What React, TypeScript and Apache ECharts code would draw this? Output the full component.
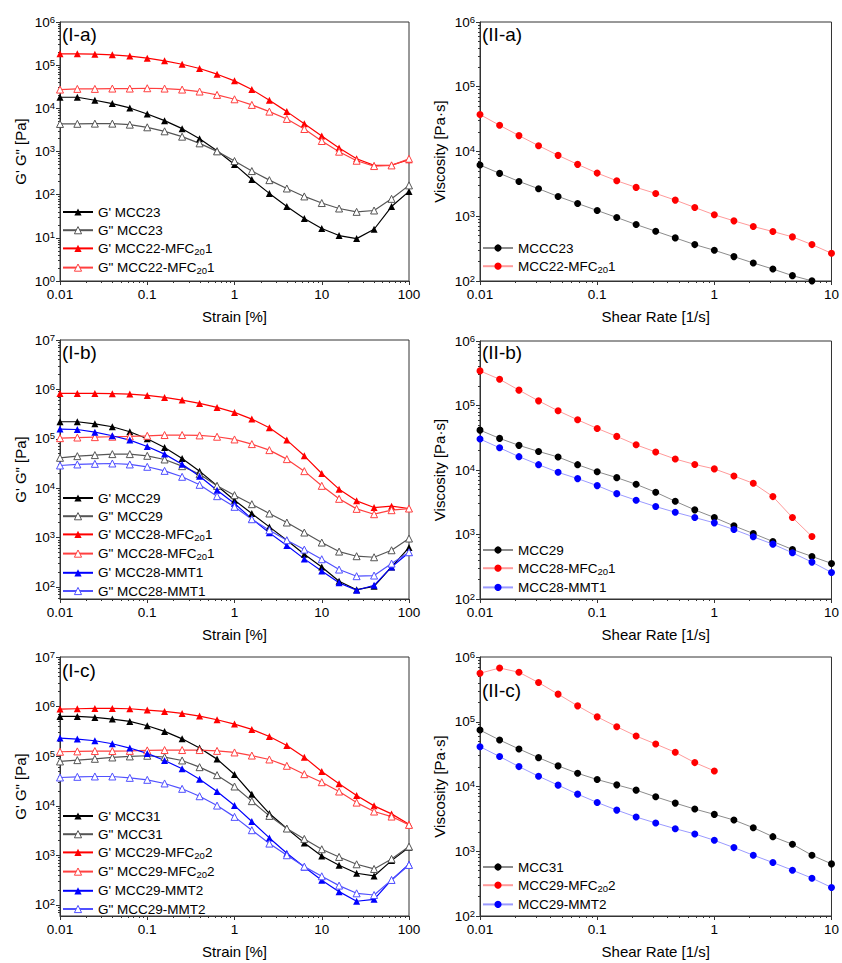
import React, { useEffect, useRef } from "react";
import * as echarts from "echarts";

const FONT = "'Liberation Sans', Arial, sans-serif";

// x values
const STRAIN = [
  0.01, 0.0158, 0.0251, 0.0398, 0.0631, 0.1, 0.158, 0.251, 0.398, 0.631, 1,
  1.58, 2.51, 3.98, 6.31, 10, 15.8, 25.1, 39.8, 63.1, 100,
];
const SHEAR = [
  0.01, 0.0147, 0.0215, 0.0316, 0.0464, 0.0681, 0.1, 0.147, 0.215, 0.316,
  0.464, 0.681, 1, 1.47, 2.15, 3.16, 4.64, 6.81, 10,
];

// tick labels
const STRAIN_TICKS = [0.01, 0.1, 1, 10, 100];
const STRAIN_TICK_LABELS = ["0.01", "0.1", "1", "10", "100"];
const SHEAR_TICKS = [0.01, 0.1, 1, 10];
const SHEAR_TICK_LABELS = ["0.01", "0.1", "1", "10"];
const Y_TICKS_0_6 = [1, 10, 100, 1e3, 1e4, 1e5, 1e6];
const Y_TICKS_2_6 = [100, 1e3, 1e4, 1e5, 1e6];
const Y_TICKS_2_7 = [100, 1e3, 1e4, 1e5, 1e6, 1e7];

// (I-a) strain sweep
const IA_GP_MCC23 = [18070, 18070, 15400, 12880, 10210, 7410, 5190, 3380, 1983, 1044, 502, 225, 107, 53, 28, 16.4, 11.3, 9.6, 15.8, 53, 119];
const IA_GPP_MCC23 = [4345, 4380, 4420, 4420, 4190, 3634, 2934, 2206, 1545, 1007, 601, 352, 217, 139, 91, 64, 47.8, 40, 43, 80, 164];
const IA_GP_MFC = [183000, 183000, 180000, 174000, 162000, 145000, 126000, 105000, 83800, 61800, 43300, 27200, 15400, 8390, 4420, 2290, 1203, 681, 476, 485, 645];
const IA_GPP_MFC = [27200, 28200, 28200, 28700, 28700, 29200, 28700, 27200, 24500, 20500, 16200, 12000, 8390, 5680, 3320, 1750, 990, 611, 460, 476, 680];

// (II-a) viscosity
const IIA_MCCC23 = [6180, 4590, 3450, 2660, 2020, 1575, 1228, 957, 745, 587, 463, 365, 298, 238, 190, 153, 121, 100.5, 80];
const IIA_MFC = [37200, 25400, 17600, 12300, 8720, 6330, 4640, 3530, 2790, 2250, 1775, 1366, 1052, 849, 694, 581, 480, 365, 268];

// (I-b) strain sweep
const IB_GP_MCC29 = [221000, 221000, 201000, 175000, 139000, 100000, 66700, 39900, 22100, 11150, 5710, 3070, 1645, 883, 459, 254, 130, 88, 103, 254, 627];
const IB_GPP_MCC29 = [41200, 44500, 46700, 48900, 48900, 45200, 38100, 27900, 19200, 11150, 7210, 4740, 3070, 2015, 1263, 792, 520, 419, 399, 553, 955];
const IB_GP_MFC = [830000, 830000, 830000, 817000, 804000, 755000, 689000, 608000, 520000, 432000, 342000, 250000, 167000, 94000, 45200, 19800, 9550, 5540, 4050, 4320, 3870];
const IB_GPP_MFC = [103000, 106000, 108000, 110000, 112000, 115000, 119000, 119000, 117000, 110000, 96900, 78000, 58900, 38700, 22100, 11150, 6080, 3810, 2970, 3580, 3870];
const IB_GP_MMT = [157000, 154000, 136000, 115000, 94000, 69900, 48900, 30600, 17500, 9100, 4890, 2390, 1244, 689, 370, 211, 121, 85.6, 108, 254, 497];
const IB_GPP_MMT = [28800, 30200, 31100, 31600, 30200, 27100, 22400, 17000, 11700, 6880, 4190, 2350, 1408, 883, 571, 364, 225, 165, 170, 297, 504];

// (II-b) viscosity
const IIB_MCC29 = [41500, 30900, 24100, 19400, 15900, 12100, 9420, 7610, 6000, 4520, 3270, 2410, 1833, 1361, 1036, 780, 586, 457, 356];
const IIB_MFC = [344000, 255000, 173000, 118000, 82700, 60000, 44100, 33200, 24600, 19000, 14800, 12200, 10400, 8070, 6220, 3870, 1833, 931, null];
const IIB_MMT = [30200, 22100, 16100, 12100, 9200, 7350, 5730, 4300, 3400, 2710, 2210, 1833, 1515, 1194, 920, 709, 520, 373, 258];

// (I-c) strain sweep
const IC_GP_MCC31 = [634000, 634000, 605000, 560000, 502000, 411000, 316000, 224000, 146000, 87300, 42800, 17100, 6980, 3480, 1786, 975, 632, 436, 385, 785, 1459];
const IC_GPP_MCC31 = [78300, 83300, 88600, 94300, 98900, 102000, 95700, 82000, 60100, 41500, 24500, 12400, 6260, 3480, 2150, 1330, 931, 662, 533, 849, 1506];
const IC_GP_MFC = [891000, 906000, 920000, 920000, 906000, 851000, 800000, 729000, 644000, 543000, 444000, 347000, 250000, 165000, 95700, 49200, 27700, 16100, 9970, 6870, 4250];
const IC_GPP_MFC = [123000, 125000, 127000, 127000, 128000, 131000, 133000, 133000, 133000, 128000, 119000, 103000, 85900, 64000, 43400, 29900, 19400, 11600, 7660, 6070, 4120];
const IC_GP_MMT = [232000, 221000, 205000, 178000, 146000, 114000, 82000, 55700, 34400, 19400, 10100, 4810, 2250, 1104, 585, 315, 186, 119, 130, 320, 662];
const IC_GPP_MMT = [37200, 38400, 39000, 39000, 36600, 33400, 28200, 22000, 15600, 10100, 5980, 3220, 1730, 1007, 594, 379, 246, 172, 159, 320, 642];

// (II-c) viscosity
const IIC_MCC31 = [74400, 52200, 38000, 27900, 20800, 16000, 12800, 10600, 8790, 6930, 5540, 4480, 3710, 3030, 2310, 1680, 1282, 868, 638];
const IIC_MFC = [561000, 677000, 581000, 403000, 267000, 176000, 119000, 83800, 60200, 45300, 33700, 23400, 17400, null, null, null, null, null, null];
const IIC_MMT = [41200, 29000, 20300, 14400, 10500, 7620, 5670, 4320, 3380, 2730, 2230, 1849, 1476, 1139, 868, 669, 510, 384, 276];

type Curve = {
  name: string;
  values: (number | null)[];
  line: string;
  mark: string;
  kind: "filled" | "open" | "dot";
};

const gp = (name: string, values: (number | null)[], c: string): Curve => ({ name, values, line: c, mark: c, kind: "filled" });
const gpp = (name: string, values: (number | null)[], c: string): Curve => ({ name, values, line: c, mark: c, kind: "open" });
const eta = (name: string, values: (number | null)[], line: string, mark: string): Curve => ({ name, values, line, mark, kind: "dot" });

const PANELS = [
  {
    tag: "(I-a)", rect: [60, 22, 349, 259], tagPos: [62, 25], legendPos: [62, 205],
    strain: true, yMin: 1, yMax: 1e6, yTicks: Y_TICKS_0_6,
    curves: [
      gp("G' MCC23", IA_GP_MCC23, "#000000"),
      gpp('G" MCC23', IA_GPP_MCC23, "#555555"),
      gp("G' MCC22-MFC201", IA_GP_MFC, "#ff0000"),
      gpp('G" MCC22-MFC201', IA_GPP_MFC, "#ff4040"),
    ],
  },
  {
    tag: "(II-a)", rect: [480, 22, 353, 259], tagPos: [482, 25], legendPos: [482, 241],
    strain: false, yMin: 100, yMax: 1e6, yTicks: Y_TICKS_2_6,
    curves: [
      eta("MCCC23", IIA_MCCC23, "#8c8c8c", "#000000"),
      eta("MCC22-MFC201", IIA_MFC, "#ff9a9a", "#ff0000"),
    ],
  },
  {
    tag: "(I-b)", rect: [60, 340, 349, 259], tagPos: [62, 343], legendPos: [62, 491],
    strain: true, yMin: 57, yMax: 1e7, yTicks: Y_TICKS_2_7,
    curves: [
      gp("G' MCC29", IB_GP_MCC29, "#000000"),
      gpp('G" MCC29', IB_GPP_MCC29, "#555555"),
      gp("G' MCC28-MFC201", IB_GP_MFC, "#ff0000"),
      gpp('G" MCC28-MFC201', IB_GPP_MFC, "#ff4040"),
      gp("G' MCC28-MMT1", IB_GP_MMT, "#0000ff"),
      gpp('G" MCC28-MMT1', IB_GPP_MMT, "#5050ff"),
    ],
  },
  {
    tag: "(II-b)", rect: [480, 341, 353, 258], tagPos: [482, 343], legendPos: [482, 543],
    strain: false, yMin: 100, yMax: 1e6, yTicks: Y_TICKS_2_6,
    curves: [
      eta("MCC29", IIB_MCC29, "#8c8c8c", "#000000"),
      eta("MCC28-MFC201", IIB_MFC, "#ff9a9a", "#ff0000"),
      eta("MCC28-MMT1", IIB_MMT, "#9a9aff", "#0000ff"),
    ],
  },
  {
    tag: "(I-c)", rect: [60, 657, 349, 259], tagPos: [62, 661], legendPos: [62, 809],
    strain: true, yMin: 60, yMax: 1e7, yTicks: Y_TICKS_2_7,
    curves: [
      gp("G' MCC31", IC_GP_MCC31, "#000000"),
      gpp('G" MCC31', IC_GPP_MCC31, "#555555"),
      gp("G' MCC29-MFC202", IC_GP_MFC, "#ff0000"),
      gpp('G" MCC29-MFC202', IC_GPP_MFC, "#ff4040"),
      gp("G' MCC29-MMT2", IC_GP_MMT, "#0000ff"),
      gpp('G" MCC29-MMT2', IC_GPP_MMT, "#5050ff"),
    ],
  },
  {
    tag: "(II-c)", rect: [480, 657, 353, 259], tagPos: [482, 681], legendPos: [482, 860],
    strain: false, yMin: 100, yMax: 1e6, yTicks: Y_TICKS_2_6,
    curves: [
      eta("MCC31", IIC_MCC31, "#8c8c8c", "#000000"),
      eta("MCC29-MFC202", IIC_MFC, "#ff9a9a", "#ff0000"),
      eta("MCC29-MMT2", IIC_MMT, "#9a9aff", "#0000ff"),
    ],
  },
];

// log minor ticks (2..9 per decade) strictly inside (lo, hi)
function minorTicks(lo: number, hi: number): number[] {
  const out: number[] = [];
  for (let e = Math.floor(Math.log10(lo)); e < Math.ceil(Math.log10(hi)); e++) {
    for (let m = 2; m <= 9; m++) {
      const v = m * Math.pow(10, e);
      if (v > lo && v < hi) out.push(v);
    }
  }
  return out;
}

const legendLabel = (name: string) => {
  const m = name.match(/^(.*MFC)20(\d)$/);
  return m ? `{t|${m[1]}}{s|20}{t|${m[2]}}` : `{t|${name}}`;
};

const AXIS_COLOR = "#333333";

function buildOption(): echarts.EChartsOption {
  const grid: any[] = [];
  const xAxis: any[] = [];
  const yAxis: any[] = [];
  const series: any[] = [];
  const legend: any[] = [];
  const title: any[] = [];

  PANELS.forEach((p, g) => {
    const [left, top, width, height] = p.rect;
    grid.push({
      left, top, width, height, show: true,
      borderColor: AXIS_COLOR, borderWidth: 1, backgroundColor: "transparent",
    });

    const xs = p.strain ? STRAIN : SHEAR;
    const xTicks = p.strain ? STRAIN_TICKS : SHEAR_TICKS;
    const xLabels = p.strain ? STRAIN_TICK_LABELS : SHEAR_TICK_LABELS;
    const xMin = xTicks[0];
    const xMax = xTicks[xTicks.length - 1];

    xAxis.push({
      type: "log", logBase: 10, gridIndex: g, position: "bottom",
      min: xMin, max: xMax,
      name: p.strain ? "Strain [%]" : "Shear Rate [1/s]",
      nameLocation: "middle", nameGap: 28,
      nameTextStyle: { fontSize: 15, color: "#000", fontFamily: FONT },
      axisLine: { onZero: false, lineStyle: { color: AXIS_COLOR, width: 1 } },
      axisTick: { length: 4, customValues: xTicks, lineStyle: { color: AXIS_COLOR } },
      axisLabel: {
        customValues: xTicks, margin: 6, fontSize: 13.5, color: "#000", fontFamily: FONT,
        formatter: (v: number) => {
          const i = xTicks.findIndex((t) => Math.abs(Math.log10(t) - Math.log10(v)) < 1e-6);
          return i >= 0 ? xLabels[i] : "";
        },
      },
      splitLine: { show: false },
    });
    xAxis.push({
      type: "log", logBase: 10, gridIndex: g, position: "bottom",
      min: xMin, max: xMax,
      axisLine: { show: false, onZero: false },
      axisTick: { length: 2, customValues: minorTicks(xMin, xMax), lineStyle: { color: AXIS_COLOR } },
      axisLabel: { show: false },
      splitLine: { show: false },
    });

    yAxis.push({
      type: "log", logBase: 10, gridIndex: g, position: "left",
      min: p.yMin, max: p.yMax,
      name: p.strain ? 'G\' G" [Pa]' : "Viscosity [Pa·s]",
      nameLocation: "middle", nameGap: p.strain ? 32 : 33,
      nameTextStyle: { fontSize: 15, color: "#000", fontFamily: FONT },
      axisLine: { onZero: false, lineStyle: { color: AXIS_COLOR, width: 1 } },
      axisTick: { length: 4, customValues: p.yTicks, lineStyle: { color: AXIS_COLOR } },
      axisLabel: {
        customValues: p.yTicks, margin: 5, color: "#000", fontFamily: FONT,
        formatter: (v: number) => `{b|10}{p|${Math.round(Math.log10(v))}}`,
        rich: {
          b: { fontSize: 13.5, lineHeight: 16, fontFamily: FONT, color: "#000" },
          p: { fontSize: 9.5, lineHeight: 9, verticalAlign: "top", fontFamily: FONT, color: "#000" },
        },
      },
      splitLine: { show: false },
    });
    yAxis.push({
      type: "log", logBase: 10, gridIndex: g, position: "left",
      min: p.yMin, max: p.yMax,
      axisLine: { show: false, onZero: false },
      axisTick: { length: 2, customValues: minorTicks(p.yMin, p.yMax), lineStyle: { color: AXIS_COLOR } },
      axisLabel: { show: false },
      splitLine: { show: false },
    });

    p.curves.forEach((c) => {
      const isDot = c.kind === "dot";
      const isOpen = c.kind === "open";
      series.push({
        type: "line",
        name: c.name,
        xAxisIndex: 2 * g,
        yAxisIndex: 2 * g,
        data: xs.map((x, i) => [x, c.values[i]]).filter((d) => d[1] != null),
        symbol: isDot ? "circle" : "triangle",
        symbolSize: 7,
        showAllSymbol: true,
        lineStyle: { color: c.line, width: isDot ? 1 : 1.2 },
        itemStyle: isOpen
          ? { color: "#ffffff", borderColor: c.mark, borderWidth: 1 }
          : { color: c.mark, borderColor: c.mark, borderWidth: 0 },
        emphasis: { disabled: true },
      });
    });

    legend.push({
      orient: "vertical",
      left: p.legendPos[0],
      top: p.legendPos[1],
      padding: 0,
      itemWidth: 30,
      itemHeight: 9,
      itemGap: 4.2,
      selectedMode: false,
      data: p.curves.map((c) => ({
        name: c.name,
        itemStyle: c.kind === "open" ? { borderWidth: 1 } : { borderWidth: 0 },
      })),
      formatter: legendLabel,
      textStyle: {
        fontSize: 13.5, color: "#000", fontFamily: FONT,
        rich: {
          t: { fontSize: 13.5, lineHeight: 16, color: "#000", fontFamily: FONT },
          s: { fontSize: 9.5, lineHeight: 8, verticalAlign: "bottom", color: "#000", fontFamily: FONT },
        },
      },
    });

    title.push({
      text: p.tag,
      left: p.tagPos[0],
      top: p.tagPos[1],
      padding: 0,
      textStyle: { fontSize: 19, fontWeight: "normal", color: "#000", fontFamily: FONT },
    });
  });

  return {
    animation: false,
    backgroundColor: "#ffffff",
    textStyle: { fontFamily: FONT },
    title,
    legend,
    grid,
    xAxis,
    yAxis,
    series,
  };
}

export default function App() {
  const chartRef = useRef<HTMLDivElement | null>(null);

  useEffect(() => {
    if (!chartRef.current) return;
    const chart = echarts.init(chartRef.current, null, { renderer: "svg" });
    chart.setOption(buildOption());
    return () => chart.dispose();
  }, []);

  return (
    <div
      ref={chartRef}
      style={{ position: "absolute", left: 0, top: 0, width: 842, height: 963, background: "#fff" }}
    />
  );
}
